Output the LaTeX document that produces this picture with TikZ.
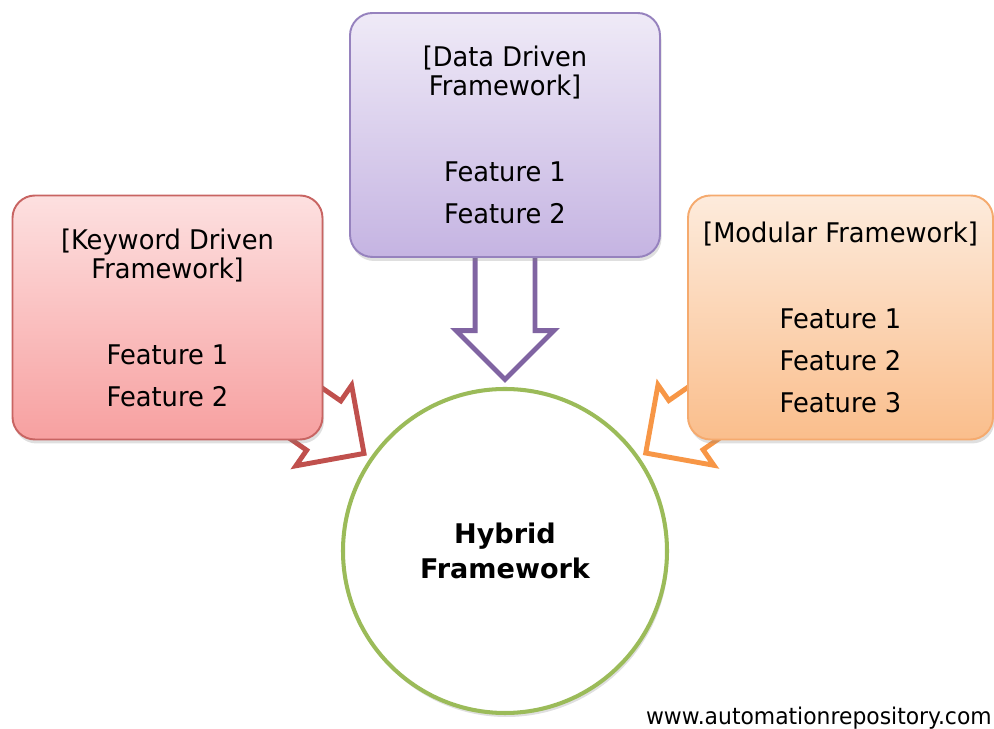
\documentclass[tikz,border=0pt]{standalone}
\usepackage{fontspec}
\setmainfont{DejaVu Sans}[FakeStretch=0.95]
\newfontfamily\hubfont{DejaVu Sans}
\usetikzlibrary{shapes.arrows,shadows,calc,backgrounds}

\definecolor{kwtop}{RGB}{253,224,224}
\definecolor{kwbot}{RGB}{247,160,160}
\definecolor{kwline}{RGB}{200,100,98}
\definecolor{kwarrow}{RGB}{192,80,77}
\definecolor{ddtop}{RGB}{239,234,247}
\definecolor{ddbot}{RGB}{197,180,226}
\definecolor{ddline}{RGB}{150,130,190}
\definecolor{ddarrow}{RGB}{128,100,162}
\definecolor{modtop}{RGB}{253,235,220}
\definecolor{modbot}{RGB}{250,190,140}
\definecolor{modline}{RGB}{245,170,110}
\definecolor{modarrow}{RGB}{247,150,70}
\definecolor{hubline}{RGB}{155,187,89}

\tikzset{
  fw/.style={draw, rounded corners=0.45cm, minimum width=6.2cm, minimum height=4.88cm,
    align=center, line width=1.1pt, font=\fontsize{15.4pt}{16.5pt}\selectfont,
    drop shadow={opacity=0.25, shadow xshift=0.03cm, shadow yshift=-0.08cm}},
  bigarrow/.style={single arrow, draw, fill=white, line width=2.8pt, inner xsep=0pt,
    inner ysep=0.55cm, single arrow head extend=0.38cm, single arrow tip angle=90,
    minimum width=0pt, anchor=tip}
}

\begin{document}
\begin{tikzpicture}
    \useasboundingbox (0,0) rectangle (19.88,14.58);

    % frameworks
    \node[fw, draw=kwline, top color=kwtop, bottom color=kwbot] (kw) at (3.35,8.23)
        {[Keyword Driven\\Framework]\\[32.4pt]Feature 1\\[7.4pt]Feature 2};
    \node[fw, draw=ddline, top color=ddtop, bottom color=ddbot] (dd) at (10.1,11.88)
        {[Data Driven\\Framework]\\[32.4pt]Feature 1\\[7.4pt]Feature 2};
    \node[fw, draw=modline, top color=modtop, bottom color=modbot, minimum width=6.1cm] (mod) at (16.81,8.23)
        {[Modular Framework]\\[32.4pt]Feature 1\\[7.4pt]Feature 2\\[7.4pt]Feature 3};

    % hybrid
    \node[circle, draw=hubline, line width=2.3pt, fill=white, minimum size=6.48cm, align=center,
        font=\hubfont\bfseries\fontsize{15.4pt}{19.9pt}\selectfont,
        drop shadow={opacity=0.25, shadow xshift=0.03cm, shadow yshift=-0.08cm}] (hyb) at (10.1,3.56)
        {Hybrid\\Framework};

    % arrows
    \begin{pgfonlayer}{background}
        \node[bigarrow, draw=kwarrow, rotate=-34.7, minimum height=2cm] (a1) at ($(hyb)!3.36cm!(kw)$) {};
        \node[bigarrow, draw=ddarrow, rotate=-90, minimum height=2.92cm] (a2) at ($(hyb)!3.36cm!(dd)$) {};
        \node[bigarrow, draw=modarrow, rotate=-145.2, minimum height=2cm] (a3) at ($(hyb)!3.36cm!(mod)$) {};
    \end{pgfonlayer}

    \node[anchor=east, inner sep=0pt, font=\fontsize{13.1pt}{15pt}\selectfont] (url) at (19.84,0.22) {www.automationrepository.com};
\end{tikzpicture}
\end{document}
